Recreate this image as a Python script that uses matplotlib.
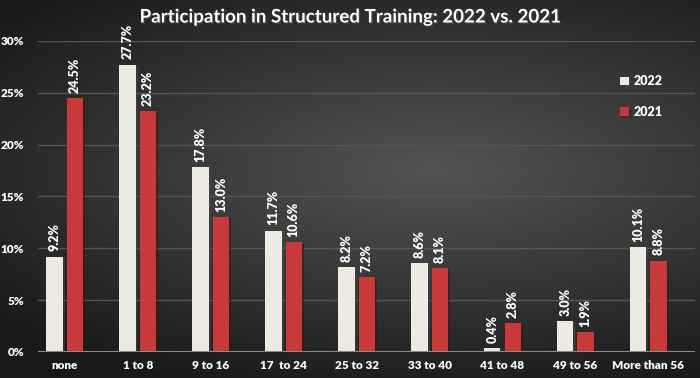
import numpy as np
import matplotlib.pyplot as plt
import matplotlib.patheffects as pe

categories = ['none', '1 to 8', '9 to 16', '17  to 24', '25 to 32',
              '33 to 40', '41 to 48', '49 to 56', 'More than 56']
vals_2022 = [9.2, 27.7, 17.8, 11.7, 8.2, 8.6, 0.4, 3.0, 10.1]
vals_2021 = [24.5, 23.2, 13.0, 10.6, 7.2, 8.1, 2.8, 1.9, 8.8]
y_ticks = [0, 5, 10, 15, 20, 25, 30]

col_2022 = '#EDEAE1'
col_2021 = '#C8393A'
font = ['Lato', 'DejaVu Sans']

fig = plt.figure(figsize=(7, 3.78), dpi=100)

# radial gradient background
bg = fig.add_axes([0, 0, 1, 1])
yy, xx = np.mgrid[0:1:378j, 0:1:700j]
r = np.sqrt(((xx - 0.62) / 1.0) ** 2 + ((yy - 0.45) / 0.75) ** 2)
shade = np.clip(0.33 - 0.28 * r, 0.1, 0.35)
bg.imshow(np.dstack([shade] * 3), extent=[0, 1, 0, 1], aspect='auto', origin='upper')
bg.axis('off')

ax = fig.add_axes([0.054, 0.069, 0.939, 0.823])
ax.patch.set_alpha(0)

x = np.arange(len(categories))
w = 0.225
shadow = [pe.SimplePatchShadow(offset=(1.5, -1), alpha=0.5), pe.Normal()]
b1 = ax.bar(x - 0.14, vals_2022, w, color=col_2022, label='2022', zorder=3,
            path_effects=shadow)
b2 = ax.bar(x + 0.14, vals_2021, w, color=col_2021, label='2021', zorder=3,
            path_effects=shadow)

for bars, vals in ((b1, vals_2022), (b2, vals_2021)):
    for rect, v in zip(bars, vals):
        ax.text(rect.get_x() + rect.get_width() / 2, v + 0.5, f'{v:.1f}%',
                rotation=90, ha='center', va='bottom', color='white',
                fontsize=9, fontweight='heavy', family=font, clip_on=False)

ax.set_xlim(-0.37, 8.64)
ax.set_ylim(0, 30)
ax.set_yticks(y_ticks)
ax.set_yticklabels([f'{t}%' for t in y_ticks])
ax.set_xticks(x)
ax.set_xticklabels(categories)
ax.grid(axis='y', color='#555555', linewidth=1, zorder=0)
ax.axhline(0, color='#8a8a8a', linewidth=1.5, zorder=4)
for s in ax.spines.values():
    s.set_visible(False)
ax.tick_params(length=0, colors='white', labelsize=8.5, pad=6)
for lab in ax.get_xticklabels() + ax.get_yticklabels():
    lab.set_fontweight('heavy')
    lab.set_family(font)
ax.tick_params(axis='y', pad=10)

leg = ax.legend(loc='upper right', bbox_to_anchor=(0.968, 0.925), frameon=False,
                handlelength=0.7, handleheight=0.7, labelspacing=1.5,
                handletextpad=0.4,
                prop={'family': font, 'weight': 'heavy', 'size': 9})
for t in leg.get_texts():
    t.set_color('white')

fig.text(0.5, 0.955, 'Participation in Structured Training: 2022 vs. 2021',
         ha='center', va='center', color='white', fontsize=13.5,
         fontweight='bold', family=font,
         path_effects=[pe.withSimplePatchShadow(offset=(1, -1), alpha=0.6)])

fig.savefig('out.png', dpi=100)
